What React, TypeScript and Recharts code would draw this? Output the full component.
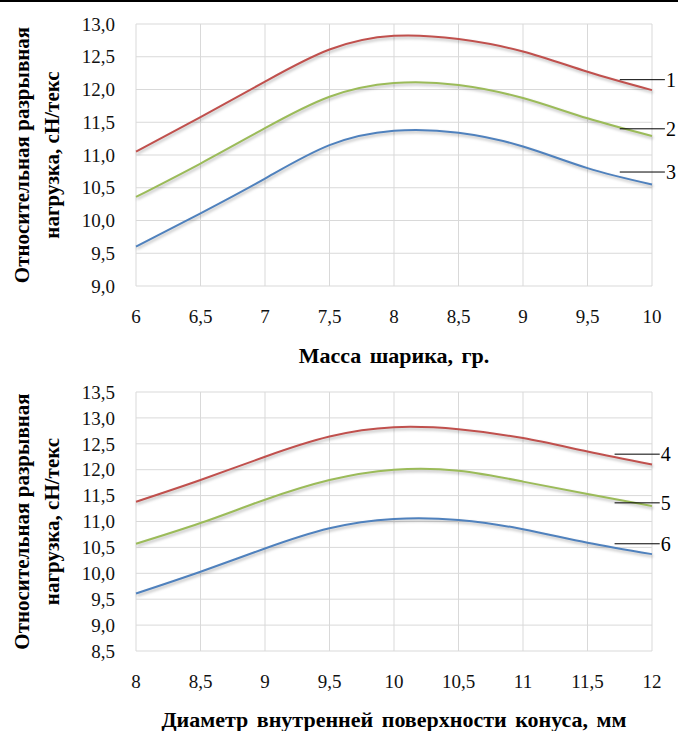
import { LineChart, Line, XAxis, YAxis, CartesianGrid, ReferenceLine, Label } from 'recharts';

// top chart: ball mass, g
const massX = [6, 6.5, 7, 7.5, 8, 8.5, 9, 9.5, 10];
const curve1 = [11.05, 11.58, 12.12, 12.61, 12.82, 12.77, 12.58, 12.27, 11.99];
const curve2 = [10.36, 10.87, 11.41, 11.89, 12.1, 12.07, 11.87, 11.56, 11.29];
const curve3 = [9.6, 10.11, 10.64, 11.15, 11.37, 11.34, 11.13, 10.8, 10.55];
const massYTicks = [9, 9.5, 10, 10.5, 11, 11.5, 12, 12.5, 13];

// bottom chart: inner cone surface diameter, mm
const diamX = [8, 8.5, 9, 9.5, 10, 10.5, 11, 11.5, 12];
const curve4 = [11.38, 11.8, 12.25, 12.64, 12.82, 12.78, 12.61, 12.35, 12.1];
const curve5 = [10.57, 10.97, 11.42, 11.8, 12.0, 11.98, 11.77, 11.53, 11.3];
const curve6 = [9.61, 10.03, 10.48, 10.87, 11.05, 11.03, 10.85, 10.59, 10.37];
const diamYTicks = [8.5, 9, 9.5, 10, 10.5, 11, 11.5, 12, 12.5, 13, 13.5];

// curve number callouts (leader line height on the y scale, start/end on x)
const massCallouts = [
  { name: '1', y: 12.15 },
  { name: '2', y: 11.4 },
  { name: '3', y: 10.74 },
];
const massCalloutX = [9.75, 10.1];
const diamCallouts = [
  { name: '4', y: 12.3 },
  { name: '5', y: 11.36 },
  { name: '6', y: 10.57 },
];
const diamCalloutX = [11.71, 12.06];

const yTitle = ['Относительная разрывная', 'нагрузка, сН/текс'];

const COLORS = ['#C0504D', '#9BBB59', '#4F81BD'];
const FONT = 'Liberation Serif, DejaVu Serif, serif';

const comma = (v: number) => String(v).replace('.', ',');
const comma1 = (v: number) => v.toFixed(1).replace('.', ',');

const YTitle = ({ viewBox }: any) => {
  const cy = viewBox.y + viewBox.height / 2;
  return (
    <g fontWeight="bold" fontSize={21} fill="#000">
      <text x={22} y={cy} transform={`rotate(-90 22 ${cy})`} textAnchor="middle" dominantBaseline="central">
        {yTitle[0]}
      </text>
      <text x={52} y={cy} transform={`rotate(-90 52 ${cy})`} textAnchor="middle" dominantBaseline="central">
        {yTitle[1]}
      </text>
    </g>
  );
};

type PanelProps = {
  xs: number[];
  series: number[][];
  yTicks: number[];
  xTitle: string;
  callouts: { name: string; y: number }[];
  calloutX: number[];
  height: number;
  top: number;
  plotH: number;
  titleOffset: number;
};

const Panel = ({ xs, series, yTicks, xTitle, callouts, calloutX, height, top, plotH, titleOffset }: PanelProps) => {
  const data = xs.map((x, i) => ({ x, a: series[0][i], b: series[1][i], c: series[2][i] }));
  return (
    <LineChart
      width={678}
      height={height}
      data={data}
      margin={{ top, right: 26, left: 0, bottom: 0 }}
    >
      <CartesianGrid stroke="#D9D9D9" strokeWidth={1} />
      <XAxis
        dataKey="x"
        type="number"
        domain={[xs[0], xs[xs.length - 1]]}
        ticks={xs}
        interval={0}
        tickFormatter={comma}
        axisLine={false}
        tickLine={false}
        tickSize={0}
        tickMargin={24}
        height={height - top - plotH}
        fontSize={19}
        tick={{ fill: '#111' }}
      >
        <Label
          value={xTitle}
          position="insideBottom"
          offset={titleOffset}
          style={{ fontWeight: 'bold', fontSize: 22, fill: '#000', wordSpacing: 3 }}
        />
      </XAxis>
      <YAxis
        type="number"
        domain={[yTicks[0], yTicks[yTicks.length - 1]]}
        ticks={yTicks}
        interval={0}
        tickFormatter={comma1}
        axisLine={false}
        tickLine={false}
        tickSize={0}
        tickMargin={21}
        width={136}
        fontSize={19}
        tick={{ fill: '#111' }}
      >
        <Label content={<YTitle />} />
      </YAxis>
      {['a', 'b', 'c'].map((k, i) => (
        <Line
          key={k}
          dataKey={k}
          type="natural"
          stroke={COLORS[i]}
          strokeWidth={2}
          dot={false}
          isAnimationActive={false}
        />
      ))}
      {callouts.map((c) => (
        <ReferenceLine
          key={c.name}
          segment={[
            { x: calloutX[0], y: c.y },
            { x: calloutX[1], y: c.y },
          ]}
          ifOverflow="visible"
          stroke="#000"
          strokeWidth={1}
          label={{ value: c.name, position: 'right', offset: 1, fontSize: 20, fill: '#000' }}
        />
      ))}
    </LineChart>
  );
};

export default function App() {
  return (
    <div style={{ position: 'absolute', left: 0, top: 0, width: 678, height: 731, background: '#fff', overflow: 'hidden', fontFamily: FONT }}>
      <style>{`
        .recharts-line-curve { filter: drop-shadow(1px 2px 1.5px rgba(0,0,0,0.28)); }
        .recharts-wrapper text { font-family: 'Liberation Serif', 'DejaVu Serif', serif !important; }
        .recharts-cartesian-axis-tick text { font-size: 19px; }
      `}</style>
      <div style={{ position: 'absolute', left: 0, top: 0, width: 678, height: 2, background: '#000' }} />
      <div style={{ position: 'absolute', left: 0, top: 0 }}>
        <Panel
          xs={massX}
          series={[curve1, curve2, curve3]}
          yTicks={massYTicks}
          xTitle="Масса шарика, гр."
          callouts={massCallouts}
          calloutX={massCalloutX}
          height={370}
          top={24}
          plotH={262}
          titleOffset={7}
        />
      </div>
      <div style={{ position: 'absolute', left: 0, top: 370 }}>
        <Panel
          xs={diamX}
          series={[curve4, curve5, curve6]}
          yTicks={diamYTicks}
          xTitle="Диаметр внутренней поверхности конуса, мм"
          callouts={diamCallouts}
          calloutX={diamCalloutX}
          height={361}
          top={22}
          plotH={259}
          titleOffset={4}
        />
      </div>
    </div>
  );
}
